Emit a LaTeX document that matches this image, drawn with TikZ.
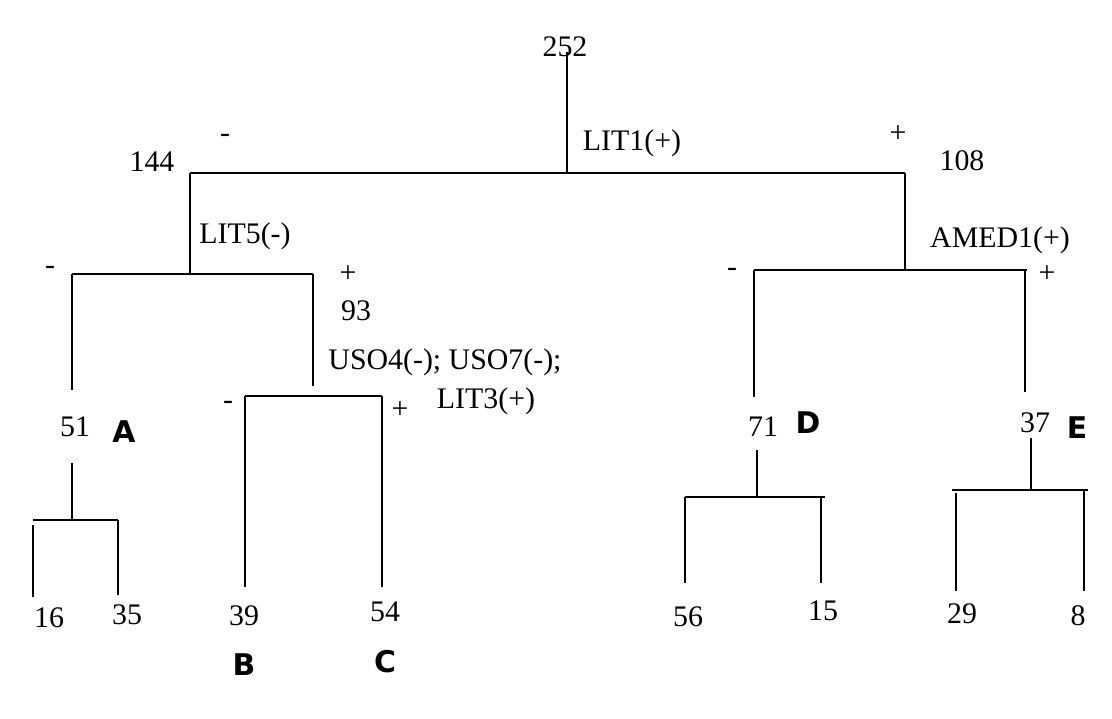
\documentclass[tikz,border=0pt]{standalone}
\usepackage{fontspec}
\setmainfont{Liberation Serif}
\newfontfamily\grpfont{DejaVu Sans}
\usetikzlibrary{positioning}

\begin{document}
\begin{tikzpicture}[x=0.02cm, y=-0.02cm, line width=1.1pt,
  every node/.style={font=\fontsize{17}{20}\selectfont, inner sep=1pt},
  grp/.style={font=\grpfont\fontsize{17}{20}\selectfont\bfseries}]
\useasboundingbox (0,0) rectangle (1112,719);

% counts
\node (n252) at (565,47) {252};
\node (n144) at (152,162) {144};
\node (n108) at (962,161) {108};
\node (n93) at (356,311) {93};
\node (n51) at (75,427) {51};
\node (n71) at (763,427) {71};
\node (n37) at (1035,423) {37};
\node (n16) at (49,618) {16};
\node (n35) at (127,615) {35};
\node (n39) at (244,616) {39};
\node (n54) at (385,612) {54};
\node (n56) at (688,617) {56};
\node (n15) at (823,611) {15};
\node (n29) at (962,614) {29};
\node (n8) at (1078,616) {8};

% groups
\node (grpA) [grp] at (124,432) {A};
\node (grpB) [grp, below=0.45cm of n39] {B};
\node (grpC) [grp, below=0.45cm of n54] {C};
\node (grpD) [grp] at (808,423) {D};
\node (grpE) [grp] at (1077,428) {E};

% splits
\node (splitLIT1) at (632,143) {LIT1(+)};
\node (splitLIT5) at (245,236) {LIT5(-)};
\node (splitAMED1) at (1000,240) {AMED1(+)};
\node (splitUSO) at (445,362) {USO4(-); USO7(-);};
\node (splitLIT3) at (486,401) {LIT3(+)};

% signs
\node (m1) at (225,138) {-};
\node (p1) at (898,134) {+};
\node (m2) at (50,270) {-};
\node (p2) at (348,274) {+};
\node (m3) at (228,405) {-};
\node (p3) at (400,410) {+};
\node (m4) at (732,272) {-};
\node (p4) at (1047,274) {+};

% tree
\coordinate (rootTop) at (567,52);
\coordinate (j1) at (567,173);
\coordinate (j1L) at (190,173);
\coordinate (j1R) at (905,173);
\coordinate (j2) at (190,274);
\coordinate (j2L) at (72,274);
\coordinate (j2R) at (313,274);
\coordinate (endA) at (72,390);
\coordinate (endBC) at (313,386);
\coordinate (j3L) at (245,396);
\coordinate (j3R) at (382,396);
\coordinate (j4) at (905,270);
\coordinate (j4L) at (754,270);
\coordinate (j4R) at (1025,270);
\coordinate (endD) at (754,397);
\coordinate (endE) at (1025,392);

\draw (rootTop) -- (j1);
\draw (j1L) -- (j1R);
\draw (j1L) -- (j2);
\draw (j2L) -- (j2R);
\draw (j2L) -- (endA);
\draw (j2R) -- (endBC);
\draw (j3L) -- (j3R);
\draw (j3L) -- (245,587);
\draw (j3R) -- (382,587);
\draw (j1R) -- (j4);
\draw (j4L) -- (1027,270);
\draw (j4L) -- (endD);
\draw (j4R) -- (endE);

% small splits
\draw (72,463) coordinate (sA) -- (72,520) coordinate (jA);
\draw (33,520) coordinate (jAL) -- (118,520) coordinate (jAR);
\draw (33,525) -- (33,597);
\draw (jAR) -- (118,595);
\draw (757,450) coordinate (sD) -- (757,497) coordinate (jD);
\draw (685,497) coordinate (jDL) -- (825,497);
\draw (jDL) -- (685,583);
\draw (821,497) -- (821,583);
\draw (1031,438) coordinate (sE) -- (1031,490) coordinate (jE);
\draw (952,490) -- (1088,490);
\draw (956,493) -- (956,591);
\draw (1084,490) -- (1084,591);
\end{tikzpicture}
\end{document}
